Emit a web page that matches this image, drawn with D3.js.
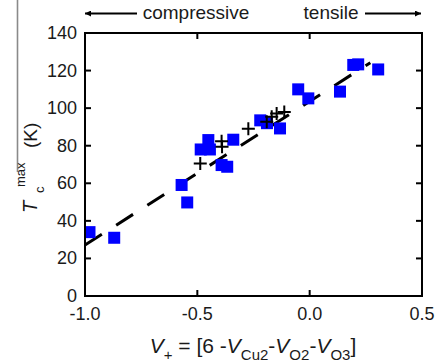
<!DOCTYPE html>
<html>
<head>
<meta charset="utf-8">
<script src="https://cdn.jsdelivr.net/npm/d3@7"></script>
<style>
  html, body { margin: 0; padding: 0; background: #fff; }
  svg text { font-family: "Liberation Sans", Arial, sans-serif; fill: #1a1a1a; }
</style>
</head>
<body>
<div id="chart"></div>
<script>
// Blue squares: measured Tc max vs V+
const squareX = [-0.98, -0.87, -0.57, -0.545, -0.485, -0.451, -0.444, -0.34, -0.392, -0.367,
                 -0.22, -0.19, -0.132, -0.051, -0.006, 0.135, 0.194, 0.216, 0.305];
const squareY = [34, 31, 59.1, 49.8, 78, 83, 78, 83.2, 69.7, 68.8,
                 93.5, 92, 89.2, 110, 105.2, 108.8, 123, 123.3, 120.6];

// Black crosses
const plusX = [-0.487, -0.392, -0.39, -0.273, -0.191, -0.169, -0.147, -0.113];
const plusY = [70.5, 82.4, 79.5, 89, 92.8, 95.4, 97.2, 98];

// Dashed linear fit (end points)
const fitX = [-1.0, 0.27];
const fitY = [27.1, 124.2];

const xTicks = [-1.0, -0.5, 0.0, 0.5];
const yTicks = [0, 20, 40, 60, 80, 100, 120, 140];

const width = 438, height = 363;
const margin = { top: 33, right: 16, bottom: 67, left: 85 };

const svg = d3.select('#chart').append('svg')
    .attr('width', width)
    .attr('height', height);

const x = d3.scaleLinear().domain([-1.0, 0.5]).range([margin.left, width - margin.right]);
const y = d3.scaleLinear().domain([0, 140]).range([height - margin.bottom, margin.top]);

// stray grey rule on the left edge
svg.append('line')
    .attr('x1', 17.5).attr('x2', 17.5)
    .attr('y1', 0).attr('y2', 172)
    .attr('stroke', '#8a8a8a')
    .attr('stroke-width', 1.6);

// clip for marks
svg.append('clipPath').attr('id', 'plot')
  .append('rect')
    .attr('x', x(-1.0)).attr('y', y(140))
    .attr('width', x(0.5) - x(-1.0))
    .attr('height', y(0) - y(140));

const marks = svg.append('g').attr('clip-path', 'url(#plot)');

// fit line
marks.append('path')
    .datum(d3.zip(fitX, fitY))
    .attr('d', d3.line().x(d => x(d[0])).y(d => y(d[1])))
    .attr('fill', 'none')
    .attr('stroke', '#000')
    .attr('stroke-width', 3)
    .attr('stroke-dasharray', '20,17');

// squares
const sq = 12;
marks.selectAll('.sq')
    .data(d3.zip(squareX, squareY))
    .join('rect')
    .attr('class', 'sq')
    .attr('x', d => x(d[0]) - sq / 2)
    .attr('y', d => y(d[1]) - sq / 2)
    .attr('width', sq)
    .attr('height', sq)
    .attr('fill', '#0000ff');

// crosses
const ps = 6.5;
marks.selectAll('.plus')
    .data(d3.zip(plusX, plusY))
    .join('path')
    .attr('class', 'plus')
    .attr('d', d => {
        const cx = x(d[0]), cy = y(d[1]);
        return `M${cx - ps},${cy}H${cx + ps}M${cx},${cy - ps}V${cy + ps}`;
    })
    .attr('stroke', '#000')
    .attr('stroke-width', 2)
    .attr('fill', 'none');

// frame
svg.append('rect')
    .attr('x', x(-1.0)).attr('y', y(140))
    .attr('width', x(0.5) - x(-1.0))
    .attr('height', y(0) - y(140))
    .attr('fill', 'none')
    .attr('stroke', '#000')
    .attr('stroke-width', 2);

// inward ticks
const tl = 6;
const ax = svg.append('g').attr('stroke', '#000').attr('stroke-width', 2);
xTicks.slice(1, -1).forEach(t => {
    ax.append('line').attr('x1', x(t)).attr('x2', x(t)).attr('y1', y(0)).attr('y2', y(0) - tl);
    ax.append('line').attr('x1', x(t)).attr('x2', x(t)).attr('y1', y(140)).attr('y2', y(140) + tl);
});
yTicks.slice(1, -1).forEach(t => {
    ax.append('line').attr('x1', x(-1)).attr('x2', x(-1) + tl).attr('y1', y(t)).attr('y2', y(t));
    ax.append('line').attr('x1', x(0.5)).attr('x2', x(0.5) - tl).attr('y1', y(t)).attr('y2', y(t));
});

// tick labels
svg.append('g').selectAll('text')
    .data(xTicks)
    .join('text')
    .attr('x', d => x(d))
    .attr('y', y(0) + 24)
    .attr('text-anchor', 'middle')
    .attr('font-size', 18)
    .text(d => d3.format('.1f')(d).replace('\u2212', '-'));

svg.append('g').selectAll('text')
    .data(yTicks)
    .join('text')
    .attr('x', x(-1) - 8)
    .attr('y', d => y(d) + 6)
    .attr('text-anchor', 'end')
    .attr('font-size', 18)
    .text(d => d);

// top annotation with arrows
const defs = svg.append('defs');
defs.append('marker')
    .attr('id', 'head')
    .attr('viewBox', '0 0 10 10')
    .attr('refX', 10).attr('refY', 5)
    .attr('markerWidth', 8).attr('markerHeight', 6)
    .attr('markerUnits', 'userSpaceOnUse')
    .attr('orient', 'auto')
  .append('path')
    .attr('d', 'M0,0L10,5L0,10Z')
    .attr('fill', '#000');

svg.append('line')
    .attr('x1', 137).attr('x2', 85).attr('y1', 13.5).attr('y2', 13.5)
    .attr('stroke', '#000').attr('stroke-width', 2)
    .attr('marker-end', 'url(#head)');
svg.append('line')
    .attr('x1', 365).attr('x2', 421).attr('y1', 13.5).attr('y2', 13.5)
    .attr('stroke', '#000').attr('stroke-width', 2)
    .attr('marker-end', 'url(#head)');
svg.append('text').attr('x', 196).attr('y', 19).attr('text-anchor', 'middle')
    .attr('font-size', 19).text('compressive');
svg.append('text').attr('x', 331).attr('y', 19).attr('text-anchor', 'middle')
    .attr('font-size', 19).text('tensile');

// x title
const xt = svg.append('text').attr('x', 253).attr('y', 353)
    .attr('text-anchor', 'middle').attr('font-size', 21);
xt.append('tspan').attr('font-style', 'italic').text('V');
xt.append('tspan').attr('font-size', 15).attr('dy', 7).text('+');
xt.append('tspan').attr('dy', -7).text(' = [6 -');
xt.append('tspan').attr('font-style', 'italic').text('V');
xt.append('tspan').attr('font-size', 15).attr('dy', 7).text('Cu2');
xt.append('tspan').attr('dy', -7).text('-');
xt.append('tspan').attr('font-style', 'italic').text('V');
xt.append('tspan').attr('font-size', 15).attr('dy', 7).text('O2');
xt.append('tspan').attr('dy', -7).text('-');
xt.append('tspan').attr('font-style', 'italic').text('V');
xt.append('tspan').attr('font-size', 15).attr('dy', 7).text('O3');
xt.append('tspan').attr('dy', -7).text(']');

// y title (rotated frame: u = -screenY, v = screenX - 37)
const yt = svg.append('g').attr('transform', 'translate(37,0) rotate(-90)');
yt.append('text').attr('x', -213).attr('y', 0).attr('font-size', 20)
    .attr('font-style', 'italic').text('T');
yt.append('text').attr('x', -193).attr('y', 7).attr('font-size', 13).text('c');
yt.append('text').attr('x', -187).attr('y', -12).attr('font-size', 13).text('max');
yt.append('text').attr('x', -148).attr('y', 0).attr('font-size', 19).text('(K)');
</script>
</body>
</html>
